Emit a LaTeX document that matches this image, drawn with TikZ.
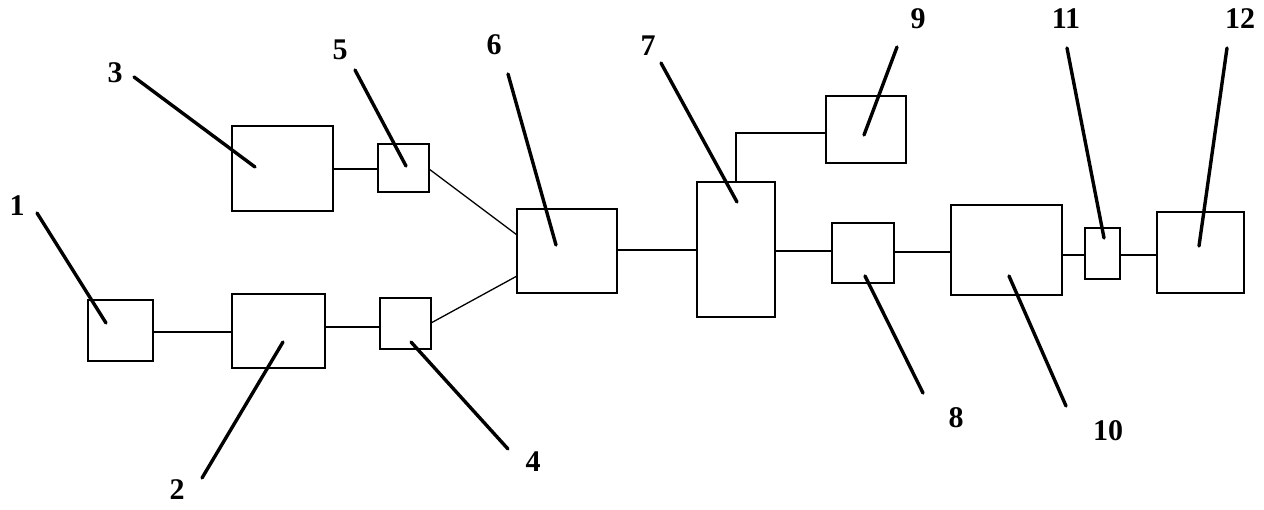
\documentclass[tikz,border=0pt]{standalone}
\usepackage{fontspec}
\setmainfont{Liberation Serif}
\begin{document}
\begin{tikzpicture}[x=1pt,y=-1pt,
  box/.style={draw,line width=2pt,inner sep=0pt,outer sep=0pt},
  conn/.style={line width=2pt},
  thin/.style={line width=1.3pt},
  leader/.style={line width=3.4pt,line cap=round},
  lab/.style={font=\fontsize{30}{30}\selectfont\bfseries,inner sep=0pt}]
\useasboundingbox (0,0) rectangle (1264,510);
% boxes: centre, width, height
\node[box,minimum width=65pt,minimum height=61pt] (b1) at (120.5,330.5) {};
\node[box,minimum width=93pt,minimum height=74pt] (b2) at (278.5,331) {};
\node[box,minimum width=101pt,minimum height=85pt] (b3) at (282.5,168.5) {};
\node[box,minimum width=51pt,minimum height=51pt] (b4) at (405.5,324) {};
\node[box,minimum width=51pt,minimum height=48pt] (b5) at (403.5,168) {};
\node[box,minimum width=100pt,minimum height=84pt] (b6) at (567,251) {};
\node[box,minimum width=78pt,minimum height=135pt] (b7) at (736,249.5) {};
\node[box,minimum width=62pt,minimum height=60pt] (b8) at (863,253) {};
\node[box,minimum width=80pt,minimum height=67pt] (b9) at (866,129.5) {};
\node[box,minimum width=111pt,minimum height=90pt] (b10) at (1006.5,250) {};
\node[box,minimum width=35pt,minimum height=51pt] (b11) at (1102.5,253.5) {};
\node[box,minimum width=87pt,minimum height=81pt] (b12) at (1200.5,252.5) {};
% connectors
\draw[conn] (b1.east |- 0,332) -- (b2.west |- 0,332);
\draw[conn] (b2.east |- 0,327) -- (b4.west |- 0,327);
\draw[conn] (b3.east |- 0,169) -- (b5.west |- 0,169);
\coordinate (c5) at (b5.east |- 0,169);
\coordinate (c6a) at (b6.west |- 0,235);
\draw[thin] (c5) -- (c6a);
\coordinate (c4) at (b4.east |- 0,323);
\coordinate (c6b) at (b6.west |- 0,276);
\draw[thin] (c4) -- (c6b);
\draw[conn] (b6.east |- 0,250) -- (b7.west |- 0,250);
\coordinate (c7t) at (b7.north);
\draw[thin] (c7t) |- (b9.west |- 0,133);
\draw[conn] (b7.east |- 0,251) -- (b8.west |- 0,251);
\draw[conn] (b8.east |- 0,252) -- (b10.west |- 0,252);
\draw[conn] (b10.east |- 0,255) -- (b11.west |- 0,255);
\draw[conn] (b11.east |- 0,255) -- (b12.west |- 0,255);
% labels
\node[lab] (l1) at (17,206) {1};
\node[lab] (l2) at (177,490) {2};
\node[lab] (l3) at (115,73) {3};
\node[lab] (l4) at (533,462) {4};
\node[lab] (l5) at (340,50) {5};
\node[lab] (l6) at (494,45) {6};
\node[lab] (l7) at (648,46) {7};
\node[lab] (l8) at (956,418) {8};
\node[lab] (l9) at (918,19) {9};
\node[lab] (l10) at (1108,431) {10};
\node[lab] (l11) at (1066,19) {11};
\node[lab] (l12) at (1240,19) {12};
% leader lines
\coordinate (s1) at (37,213);   \coordinate (e1) at (106,323);
\coordinate (s2) at (202,478);  \coordinate (e2) at (283,342);
\coordinate (s3) at (134,77);   \coordinate (e3) at (255,167);
\coordinate (s4) at (508,449);  \coordinate (e4) at (411,342);
\coordinate (s5) at (355,70);   \coordinate (e5) at (406,166);
\coordinate (s6) at (508,74);   \coordinate (e6) at (556,245);
\coordinate (s7) at (661,63);   \coordinate (e7) at (737,202);
\coordinate (s8) at (923,393);  \coordinate (e8) at (865,276);
\coordinate (s9) at (897,47);   \coordinate (e9) at (864,135);
\coordinate (s10) at (1066,406); \coordinate (e10) at (1009,276);
\coordinate (s11) at (1067,48); \coordinate (e11) at (1104,238);
\coordinate (s12) at (1227,48); \coordinate (e12) at (1199,246);
\foreach \i in {1,...,12} {\draw[leader] (s\i) -- (e\i);}
\end{tikzpicture}
\end{document}
